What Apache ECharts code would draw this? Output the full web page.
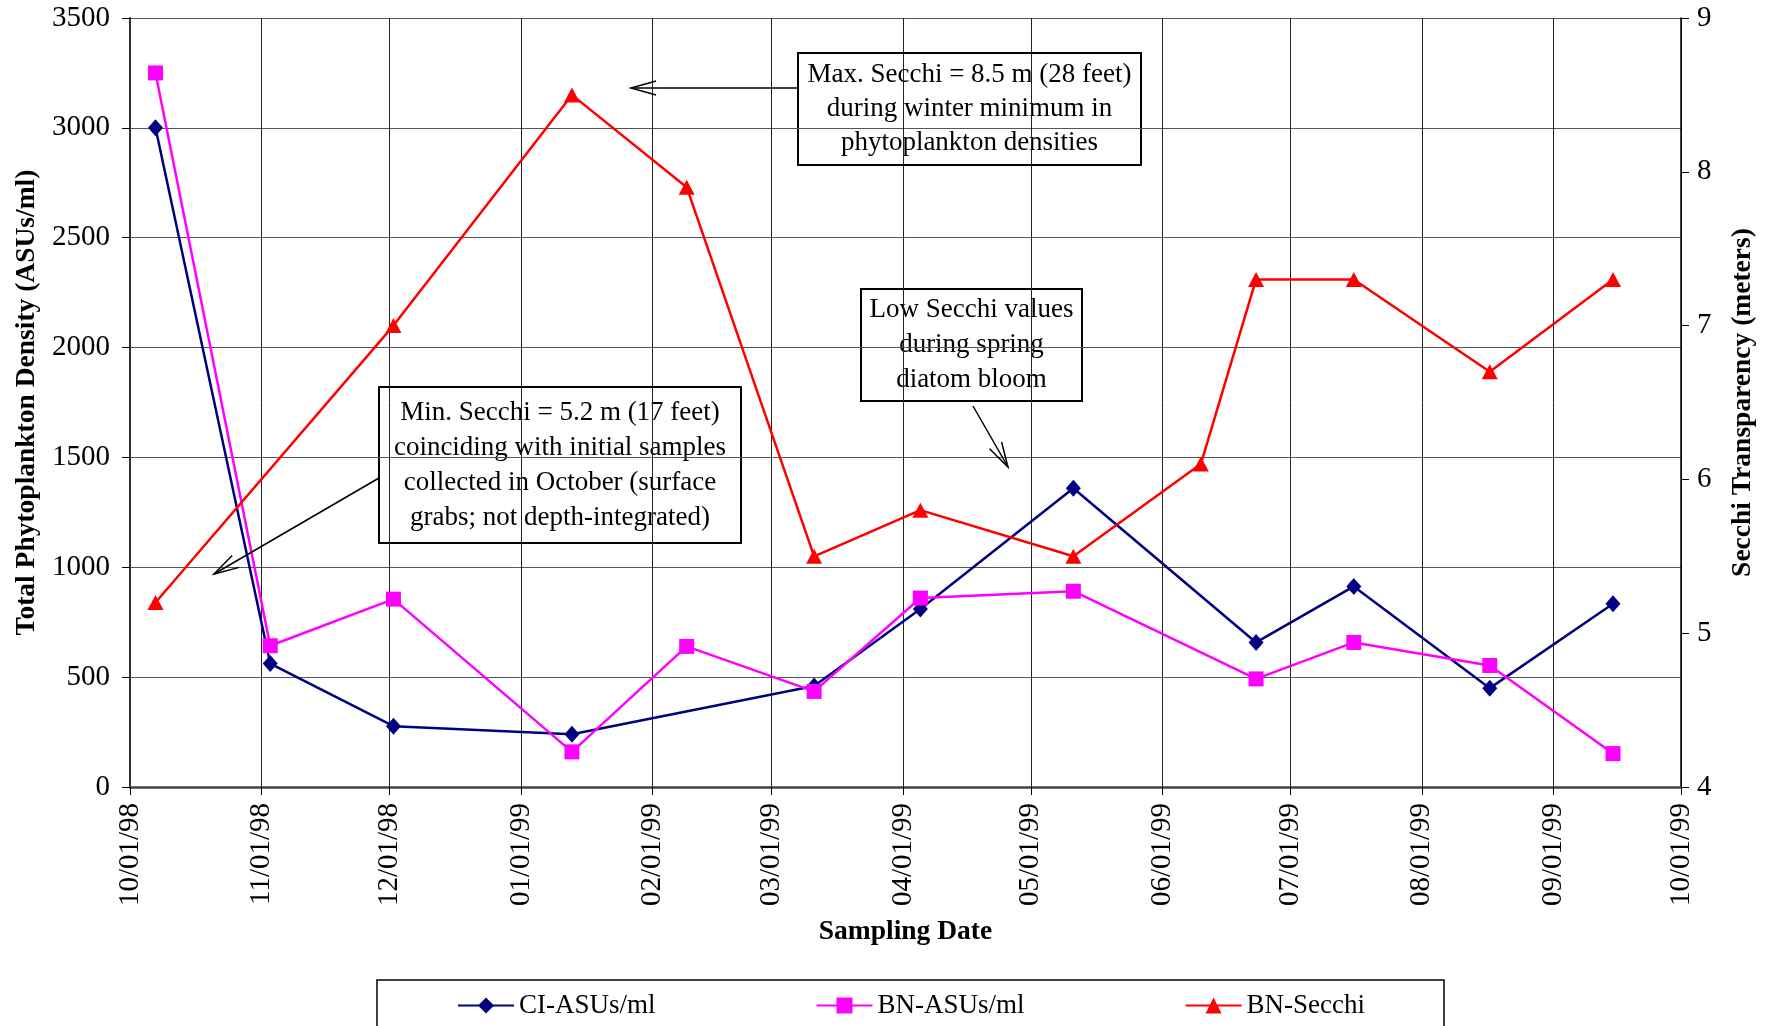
<!DOCTYPE html>
<html>
<head>
<meta charset="utf-8">
<script src="https://cdn.jsdelivr.net/npm/echarts@6/dist/echarts.min.js"></script>
<style>
  html, body { margin: 0; padding: 0; background: #fff; }
  #chart { width: 1773px; height: 1026px; }
</style>
</head>
<body>
<div id="chart"></div>
<script>
// Sampling dates and measured values, October 1998 - September 1999
const ciDates = ['1998-10-07', '1998-11-03', '1998-12-02', '1999-01-13', '1999-03-11', '1999-04-05',
                 '1999-05-11', '1999-06-23', '1999-07-16', '1999-08-17', '1999-09-15'];
const ciValues = [3000, 562, 277, 240, 460, 810, 1360, 658, 913, 450, 834];

const bnDates = ['1998-10-07', '1998-11-03', '1998-12-02', '1999-01-13', '1999-02-09', '1999-03-11',
                 '1999-04-05', '1999-05-11', '1999-06-23', '1999-07-16', '1999-08-17', '1999-09-15'];
const bnValues = [3250, 643, 855, 160, 640, 435, 860, 891, 492, 658, 553, 152];

const secchiDates = ['1998-10-07', '1998-12-02', '1999-01-13', '1999-02-09', '1999-03-11', '1999-04-05',
                     '1999-05-11', '1999-06-10', '1999-06-23', '1999-07-16', '1999-08-17', '1999-09-15'];
const secchiValues = [5.2, 7.0, 8.5, 7.9, 5.5, 5.8, 5.5, 6.1, 7.3, 7.3, 6.7, 7.3];

// Month-start ticks on the date axis
const monthTicks = ['1998-10-01', '1998-11-01', '1998-12-01', '1999-01-01', '1999-02-01', '1999-03-01',
                    '1999-04-01', '1999-05-01', '1999-06-01', '1999-07-01', '1999-08-01', '1999-09-01',
                    '1999-10-01'];

const seriesNames = ['CI-ASUs/ml', 'BN-ASUs/ml', 'BN-Secchi'];
const leftAxisTitle = 'Total Phytoplankton Density (ASUs/ml)';
const rightAxisTitle = 'Secchi Transparency (meters)';
const xAxisTitle = 'Sampling Date';

const noteMax = 'Max. Secchi = 8.5 m (28 feet)\nduring winter minimum in\nphytoplankton densities';
const noteLow = 'Low Secchi values\nduring spring\ndiatom bloom';
const noteMin = 'Min. Secchi = 5.2 m (17 feet)\ncoinciding with initial samples\ncollected in October (surface\ngrabs; not depth-integrated)';

const FONT = '"Liberation Serif", "Times New Roman", serif';
const TICK_FONT = 29;
const TITLE_FONT = 27.5;

function ts(s) {
  const [y, m, d] = s.split('-').map(Number);
  return Date.UTC(y, m - 1, d);
}
function fmtDate(v) {
  const d = new Date(v);
  const p = n => String(n).padStart(2, '0');
  return p(d.getUTCMonth() + 1) + '/' + p(d.getUTCDate()) + '/' + p(d.getUTCFullYear() % 100);
}
function pairs(dates, values) {
  return dates.map((d, i) => [ts(d), values[i]]);
}

// Callout box: white rectangle with centered multi-line text
function noteBox(x, y, w, h, text, lineHeight) {
  return {
    type: 'group',
    z: 100,
    children: [
      { type: 'rect', shape: { x: x, y: y, width: w, height: h },
        style: { fill: '#fff', stroke: '#000', lineWidth: 2 } },
      { type: 'text', x: x + w / 2, y: y + h / 2,
        style: { text: text, font: '27px ' + FONT, fill: '#000', align: 'center',
                 verticalAlign: 'middle', lineHeight: lineHeight } }
    ]
  };
}
// Open-headed arrow from (x1,y1) to tip (x2,y2)
function arrow(x1, y1, x2, y2) {
  const a = Math.atan2(y2 - y1, x2 - x1);
  const L = 26, spread = 0.27;
  return [
    { type: 'line', z: 100, shape: { x1: x1, y1: y1, x2: x2, y2: y2 },
      style: { stroke: '#000', lineWidth: 1.5 } },
    { type: 'polyline', z: 100,
      shape: { points: [
        [x2 - L * Math.cos(a - spread), y2 - L * Math.sin(a - spread)],
        [x2, y2],
        [x2 - L * Math.cos(a + spread), y2 - L * Math.sin(a + spread)]
      ] },
      style: { stroke: '#000', lineWidth: 1.5, fill: null } }
  ];
}

const tickValues = monthTicks.map(ts);
const chart = echarts.init(document.getElementById('chart'), null, { renderer: 'canvas' });

chart.setOption({
  animation: false,
  backgroundColor: '#fff',
  textStyle: { fontFamily: FONT, color: '#000' },
  grid: { left: 130, right: 92, top: 18, bottom: 239, containLabel: false, outerBoundsMode: 'none' },
  legend: {
    left: 452, top: 987,
    itemWidth: 56, itemHeight: 20, itemGap: 160,
    textStyle: { fontFamily: FONT, fontSize: 27, color: '#000' },
    data: seriesNames
  },
  xAxis: {
    type: 'value',
    min: tickValues[0],
    max: tickValues[tickValues.length - 1],
    name: xAxisTitle,
    nameLocation: 'middle',
    nameGap: 131,
    nameTextStyle: { fontFamily: FONT, fontSize: TITLE_FONT, fontWeight: 'bold', color: '#000' },
    axisLine: { show: true, lineStyle: { color: '#444', width: 2.5 } },
    axisTick: { show: true, customValues: tickValues, length: 8, lineStyle: { color: '#000', width: 1 } },
    axisLabel: { customValues: tickValues, formatter: fmtDate, rotate: 90, margin: 16,
                 fontSize: TICK_FONT, fontFamily: FONT, color: '#000', hideOverlap: false,
                 showMinLabel: true, showMaxLabel: true },
    splitLine: { show: true, lineStyle: { color: '#222', width: 1 } }
  },
  yAxis: [
    {
      type: 'value', position: 'left',
      min: 0, max: 3500, interval: 500,
      name: leftAxisTitle,
      nameLocation: 'middle', nameRotate: 90, nameGap: 88,
      nameTextStyle: { fontFamily: FONT, fontSize: TITLE_FONT, fontWeight: 'bold', color: '#000' },
      axisLine: { show: true, lineStyle: { color: '#333', width: 2 } },
      axisTick: { show: true, length: 8, lineStyle: { color: '#000' } },
      axisLabel: { margin: 20, fontSize: TICK_FONT, fontFamily: FONT, color: '#000',
                   formatter: v => String(v) },
      splitLine: { show: true, lineStyle: { color: '#555', width: 1 } }
    },
    {
      type: 'value', position: 'right',
      min: 4, max: 9, interval: 1,
      name: rightAxisTitle,
      nameLocation: 'middle', nameRotate: 90, nameGap: 48,
      nameTextStyle: { fontFamily: FONT, fontSize: TITLE_FONT, fontWeight: 'bold', color: '#000' },
      axisLine: { show: true, lineStyle: { color: '#000', width: 1.5 } },
      axisTick: { show: true, length: 8, lineStyle: { color: '#000' } },
      axisLabel: { margin: 16, fontSize: TICK_FONT, fontFamily: FONT, color: '#000',
                   formatter: v => String(v) },
      splitLine: { show: false }
    }
  ],
  series: [
    {
      name: seriesNames[0], type: 'line', yAxisIndex: 0,
      data: pairs(ciDates, ciValues),
      symbol: 'diamond', symbolSize: [15, 17],
      lineStyle: { color: '#000080', width: 2.5 },
      itemStyle: { color: '#000080' }
    },
    {
      name: seriesNames[1], type: 'line', yAxisIndex: 0,
      data: pairs(bnDates, bnValues),
      symbol: 'rect', symbolSize: 15,
      lineStyle: { color: '#FF00FF', width: 2.5 },
      itemStyle: { color: '#FF00FF' }
    },
    {
      name: seriesNames[2], type: 'line', yAxisIndex: 1,
      data: pairs(secchiDates, secchiValues),
      symbol: 'triangle', symbolSize: [16, 15],
      lineStyle: { color: '#FF0000', width: 2.5 },
      itemStyle: { color: '#FF0000' }
    }
  ],
  graphic: [
    { type: 'rect', z: 90, shape: { x: 377, y: 980, width: 1067, height: 70 },
      style: { fill: null, stroke: '#000', lineWidth: 1.5 } },
    noteBox(798, 53, 343, 112, noteMax, 34),
    noteBox(861, 289, 221, 112, noteLow, 35),
    noteBox(379, 387, 362, 156, noteMin, 35),
    ...arrow(798, 88, 631, 88),
    ...arrow(973, 406, 1008, 467),
    ...arrow(379, 478, 214, 574)
  ]
});
</script>
</body>
</html>
